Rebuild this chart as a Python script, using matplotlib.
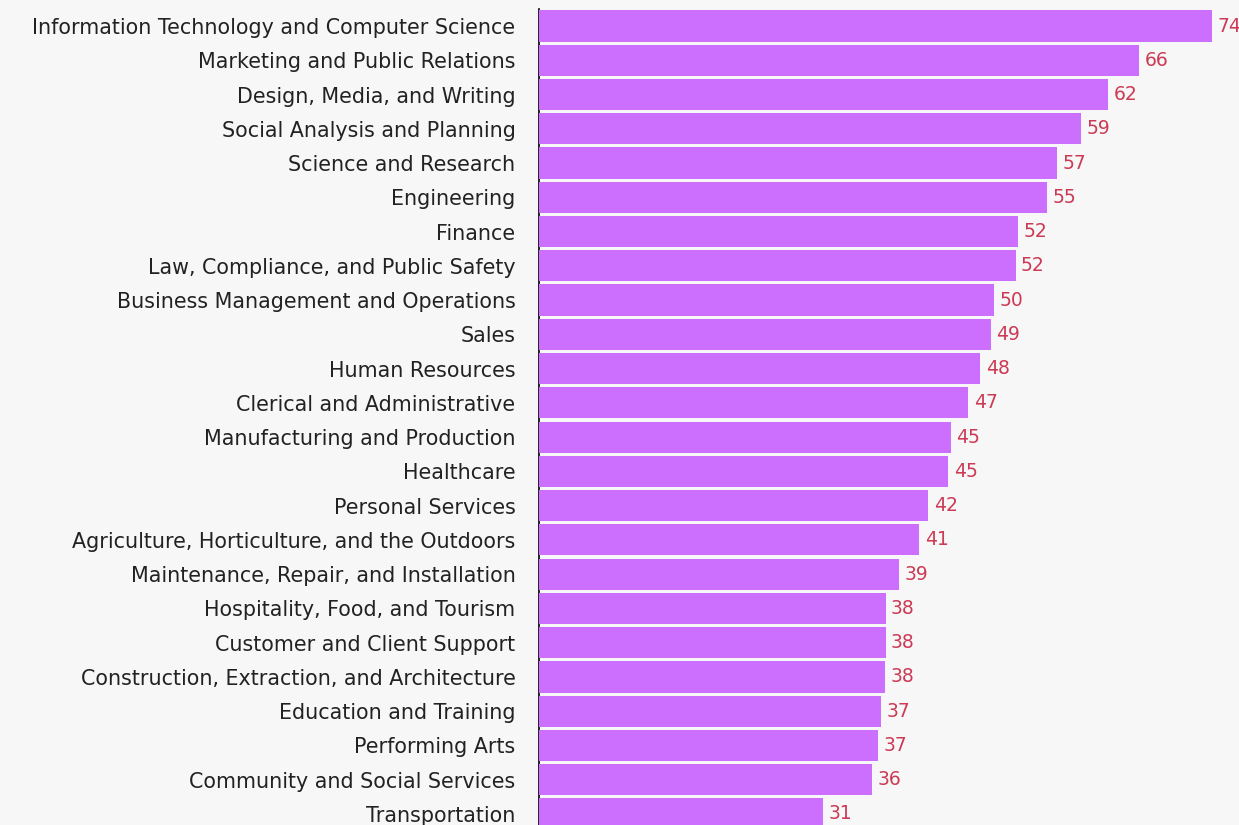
import matplotlib
matplotlib.use("Agg")
import matplotlib.pyplot as plt

categories = [
    "Information Technology and Computer Science",
    "Marketing and Public Relations",
    "Design, Media, and Writing",
    "Social Analysis and Planning",
    "Science and Research",
    "Engineering",
    "Finance",
    "Law, Compliance, and Public Safety",
    "Business Management and Operations",
    "Sales",
    "Human Resources",
    "Clerical and Administrative",
    "Manufacturing and Production",
    "Healthcare",
    "Personal Services",
    "Agriculture, Horticulture, and the Outdoors",
    "Maintenance, Repair, and Installation",
    "Hospitality, Food, and Tourism",
    "Customer and Client Support",
    "Construction, Extraction, and Architecture",
    "Education and Training",
    "Performing Arts",
    "Community and Social Services",
    "Transportation",
]
values = [74.0, 66.0, 62.6, 59.6, 57.0, 55.9, 52.7, 52.4, 50.0, 49.7, 48.5, 47.2,
          45.3, 45.0, 42.8, 41.8, 39.6, 38.1, 38.1, 38.0, 37.6, 37.3, 36.6, 31.2]
value_labels = [74, 66, 62, 59, 57, 55, 52, 52, 50, 49, 48, 47,
                45, 45, 42, 41, 39, 38, 38, 38, 37, 37, 36, 31]

BG = "#f7f7f7"
BAR = "#cc6ffe"
LBL = "#cc3a55"

W, H = 1239, 825
fig = plt.figure(figsize=(W / 100, H / 100), dpi=100, facecolor=BG)
left_px, right_px = 539, 1239
row_h = 34.26
top_px = 26 - row_h / 2
n = len(categories)
height_px = n * row_h
bottom_px = top_px + height_px
ax = fig.add_axes([left_px / W, (H - bottom_px) / H, (right_px - left_px) / W, height_px / H])
ax.set_facecolor(BG)

y = list(range(n))
ax.barh(y, values, height=0.91, color=BAR, zorder=3)
ax.set_ylim(n - 0.5, -0.5)
ax.set_xlim(0, (right_px - left_px) / 9.095)

ax.set_yticks(y)
ax.set_yticklabels(categories, fontsize=14.9, color="#222222", family=["DejaVu Sans"],
                   va="center_baseline")
ax.tick_params(axis="y", length=0, pad=17)
ax.set_xticks([])
for s in ["top", "right", "bottom"]:
    ax.spines[s].set_visible(False)
ax.spines["left"].set_color("black")
ax.spines["left"].set_linewidth(1.2)
ax.spines["left"].set_zorder(1)

for yi, v, lab in zip(y, values, value_labels):
    ax.text(v + 0.6, yi, str(lab), va="center", ha="left", fontsize=13.5,
            color=LBL, family=["DejaVu Sans"], clip_on=False)

fig.savefig("out.png", dpi=100, facecolor=BG)
